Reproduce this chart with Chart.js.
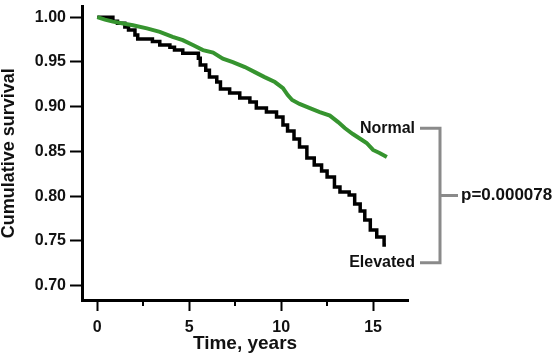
<!DOCTYPE html>
<html>
<head>
<meta charset="utf-8">
<script src="https://cdn.jsdelivr.net/npm/chart.js@4/dist/chart.umd.min.js"></script>
<style>
  html, body { margin: 0; padding: 0; background: #fff; }
  #km { display: block; }
</style>
</head>
<body>
<canvas id="km" width="554" height="362"></canvas>
<script>
/* =====================
  Data
===================== */
var normalTime = [0, 0.42, 0.85, 1.4, 1.94, 2.7, 3.4, 4.1, 4.65, 5.2, 5.75, 6.3, 6.83, 7.37, 8.03, 8.57, 9.1, 9.66, 10.1, 10.36, 10.6, 11.0, 11.56, 12.1, 12.65, 13.1, 13.46, 13.9, 14.4, 14.65, 15.0, 15.35, 15.75]
var normalSurv = [1.000, 0.9972, 0.995, 0.993, 0.991, 0.9874, 0.9836, 0.978, 0.9743, 0.9688, 0.9632, 0.9604, 0.9537, 0.9498, 0.9442, 0.9386, 0.933, 0.9275, 0.9208, 0.913, 0.9074, 0.903, 0.8984, 0.894, 0.890, 0.8828, 0.8761, 0.8694, 0.8627, 0.8594, 0.8516, 0.8482, 0.8437]

var elevatedTime = [0, 0.85, 1.1, 1.5, 1.7, 2.05, 2.2, 3.0, 3.4, 3.95, 4.2, 4.65, 5.5, 5.6, 5.9, 6.1, 6.5, 6.7, 7.2, 7.75, 8.3, 8.65, 9.2, 9.75, 10.1, 10.35, 10.7, 11.0, 11.4, 11.8, 12.2, 12.5, 12.9, 13.2, 13.7, 14.0, 14.3, 14.55, 14.85, 15.2, 15.6, 15.7]
var elevatedSurv = [1.000, 0.9955, 0.9933, 0.989, 0.9855, 0.980, 0.9755, 0.9727, 0.9688, 0.9665, 0.9632, 0.9598, 0.9542, 0.9464, 0.9408, 0.933, 0.9275, 0.9196, 0.9152, 0.9096, 0.9051, 0.8984, 0.894, 0.8884, 0.8795, 0.8728, 0.8638, 0.855, 0.8426, 0.8348, 0.8281, 0.8214, 0.8103, 0.8047, 0.8013, 0.7913, 0.7835, 0.7734, 0.7623, 0.7545, 0.7455, 0.7455]

var groupNames = ['Normal', 'Elevated']
var pValueText = 'p=0.000078'
var xTicks = [0, 5, 10, 15]
var xMinorTicks = [2.5, 7.5, 12.5]
var yTicks = [0.70, 0.75, 0.80, 0.85, 0.90, 0.95, 1.00]

var toPoints = function (xs, ys) {
  return xs.map(function (x, i) { return { x: x, y: ys[i] } })
}

var FONT = "'Liberation Sans', Arial, sans-serif"

// annotation: group labels, bracket and p-value, plus minor x ticks
var annotate = {
  id: 'annotate',
  afterDraw: function (chart) {
    var ctx = chart.ctx
    var xs = chart.scales.x
    var ys = chart.scales.y
    var bottom = chart.chartArea.bottom

    ctx.save()
    // minor ticks
    ctx.strokeStyle = '#000'
    ctx.lineWidth = 2
    xMinorTicks.forEach(function (v) {
      var px = Math.round(xs.getPixelForValue(v))
      ctx.beginPath()
      ctx.moveTo(px, bottom)
      ctx.lineTo(px, bottom + 6)
      ctx.stroke()
    })

    var yN = ys.getPixelForValue(0.876)
    var yE = ys.getPixelForValue(0.7255)
    var yM = (yN + yE) / 2

    // bracket
    ctx.strokeStyle = '#8a8a8a'
    ctx.lineWidth = 3
    ctx.beginPath()
    ctx.moveTo(420, yN); ctx.lineTo(440, yN); ctx.lineTo(440, yE); ctx.lineTo(420, yE)
    ctx.moveTo(440, yM); ctx.lineTo(458, yM)
    ctx.stroke()

    ctx.fillStyle = '#111'
    ctx.font = 'bold 16px ' + FONT
    ctx.textBaseline = 'middle'
    ctx.textAlign = 'right'
    ctx.fillText(groupNames[0], 415, yN)
    ctx.fillText(groupNames[1], 415, yE)
    ctx.textAlign = 'left'
    ctx.font = 'bold 17px ' + FONT
    ctx.fillText(pValueText, 461, yM)
    ctx.restore()
  }
}

var ctx = document.getElementById('km').getContext('2d')
var kmChart = new Chart(ctx, {
  type: 'line',
  data: {
    datasets: [{
      label: groupNames[0],
      data: toPoints(normalTime, normalSurv),
      borderColor: '#36942f',
      borderWidth: 4,
      pointRadius: 0,
      tension: 0,
      fill: false
    }, {
      label: groupNames[1],
      data: toPoints(elevatedTime, elevatedSurv),
      borderColor: '#000',
      borderWidth: 3.5,
      pointRadius: 0,
      stepped: true,
      fill: false
    }]
  },
  options: {
    responsive: false,
    animation: false,
    devicePixelRatio: 1,
    layout: { padding: { top: 0, right: 146, left: 0, bottom: 0 } },
    plugins: {
      legend: { display: false },
      tooltip: { enabled: false }
    },
    scales: {
      x: {
        type: 'linear',
        min: -0.83,
        max: 16.9,
        afterBuildTicks: function (scale) {
          scale.ticks = xTicks.map(function (v) { return { value: v } })
        },
        afterFit: function (scale) { scale.height = 62 },
        border: { display: true, color: '#000', width: 3 },
        grid: { drawOnChartArea: false, drawTicks: true, tickLength: 11, tickWidth: 2, tickColor: '#000' },
        ticks: {
          color: '#111',
          padding: 7,
          maxRotation: 0,
          font: { family: FONT, size: 16, weight: 'bold' }
        },
        title: {
          display: true,
          text: 'Time, years',
          color: '#111',
          padding: { top: 0, bottom: 7 },
          font: { family: FONT, size: 19, weight: 'bold' }
        }
      },
      y: {
        type: 'linear',
        min: 0.684,
        max: 1.012,
        afterBuildTicks: function (scale) {
          scale.ticks = yTicks.map(function (v) { return { value: v } })
        },
        afterFit: function (scale) { scale.width = 82 },
        border: { display: true, color: '#000', width: 3 },
        grid: { drawOnChartArea: false, drawTicks: true, tickLength: 12, tickWidth: 2, tickColor: '#000' },
        ticks: {
          color: '#111',
          padding: 4,
          font: { family: FONT, size: 16, weight: 'bold', lineHeight: 0.3 },
          callback: function (v) { return Number(v).toFixed(2) }
        },
        title: {
          display: true,
          text: 'Cumulative survival',
          color: '#111',
          padding: { top: 0, bottom: 0 },
          font: { family: FONT, size: 18, weight: 'bold', lineHeight: 1.0 }
        }
      }
    }
  },
  plugins: [annotate]
})
</script>
</body>
</html>
